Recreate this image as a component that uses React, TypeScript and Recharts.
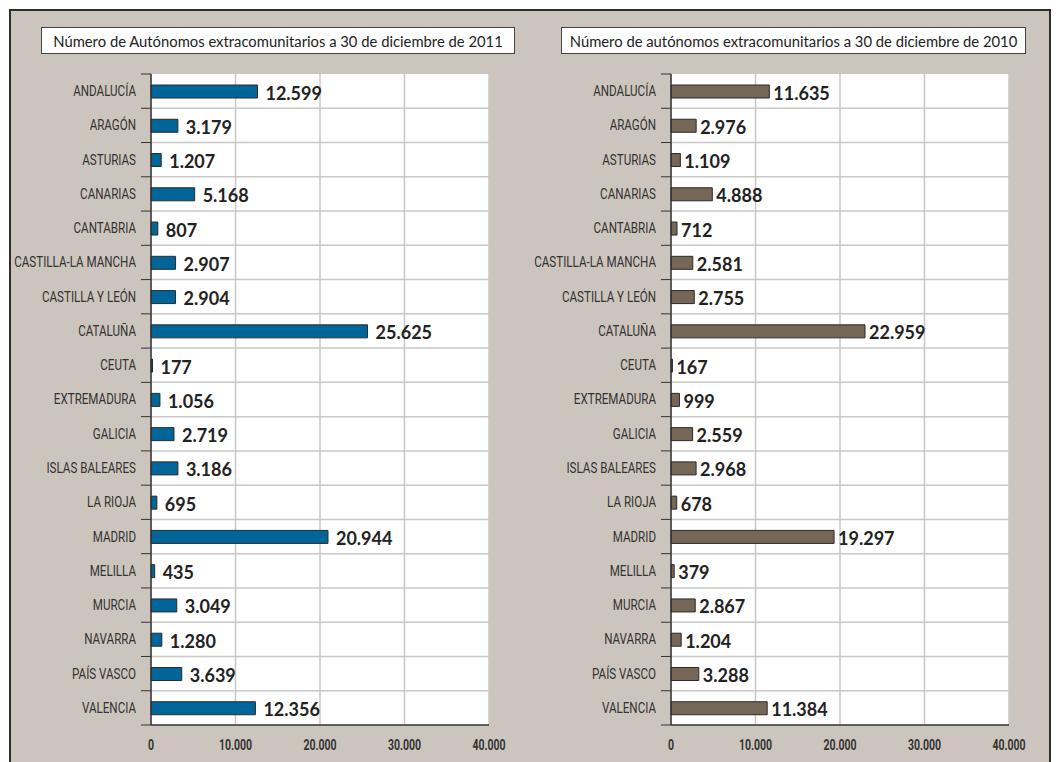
import React from "react";
import { BarChart, Bar, XAxis, YAxis, CartesianGrid, LabelList } from "recharts";

const regions = [
  "ANDALUCÍA",
  "ARAGÓN",
  "ASTURIAS",
  "CANARIAS",
  "CANTABRIA",
  "CASTILLA-LA MANCHA",
  "CASTILLA Y LEÓN",
  "CATALUÑA",
  "CEUTA",
  "EXTREMADURA",
  "GALICIA",
  "ISLAS BALEARES",
  "LA RIOJA",
  "MADRID",
  "MELILLA",
  "MURCIA",
  "NAVARRA",
  "PAÍS VASCO",
  "VALENCIA",
];

const autonomos2011 = [
  12599, 3179, 1207, 5168, 807, 2907, 2904, 25625, 177, 1056, 2719, 3186, 695,
  20944, 435, 3049, 1280, 3639, 12356,
];

const autonomos2010 = [
  11635, 2976, 1109, 4888, 712, 2581, 2755, 22959, 167, 999, 2559, 2968, 678,
  19297, 379, 2867, 1204, 3288, 11384,
];

const xTicks = [0, 10000, 20000, 30000, 40000];

const BG = "#ccc5bd";
const DARK = "#333333";
// no condensed font installed, so Roboto is squeezed horizontally
const NARROW = "Roboto, 'DejaVu Sans', sans-serif";
const SQUEEZE = 0.8;
const LABEL_FONT = "Lato, 'Open Sans', sans-serif";

const CHART_H = 762;
const TOP = 74;
const X_AXIS_H = 30;
const BOTTOM_GAP = 7;
const BAND = (CHART_H - TOP - X_AXIS_H - BOTTOM_GAP) / regions.length;

function fmt(v: number) {
  return String(Math.round(v)).replace(/\B(?=(\d{3})+(?!\d))/g, ".");
}

function CategoryTick(props: any) {
  const { x, y, payload, index } = props;
  return (
    <g>
      <text
        transform={`translate(${x - 15},${y}) scale(${SQUEEZE},1)`}
        textAnchor="end"
        dominantBaseline="central"
        fontSize={14.5}
        fill="#333"
        fontFamily={NARROW}
      >
        {payload.value}
      </text>
      <line x1={x - 10} x2={x} y1={y - BAND / 2} y2={y - BAND / 2} stroke={DARK} />
      {index === regions.length - 1 && (
        <line x1={x - 10} x2={x} y1={y + BAND / 2} y2={y + BAND / 2} stroke={DARK} />
      )}
    </g>
  );
}

function ValueTick(props: any) {
  const { x, y, payload } = props;
  return (
    <text
      transform={`translate(${x},${y + 20}) scale(0.75,1)`}
      textAnchor="middle"
      dominantBaseline="central"
      fontSize={14}
      fontWeight={700}
      fill="#333"
      fontFamily={NARROW}
    >
      {fmt(payload.value)}
    </text>
  );
}

interface PanelProps {
  values: number[];
  color: string;
  left: number;
  width: number;
  yAxisWidth: number;
  marginRight: number;
  labelGap: number;
}

function Panel({ values, color, left, width, yAxisWidth, marginRight, labelGap }: PanelProps) {
  const data = regions.map((name, i) => ({ name, value: values[i] }));
  return (
    <div style={{ position: "absolute", left, top: 0 }}>
      <BarChart
        width={width}
        height={CHART_H}
        data={data}
        layout="vertical"
        margin={{ top: TOP, right: marginRight, bottom: BOTTOM_GAP, left: 0 }}
        barCategoryGap={0}
      >
        <CartesianGrid
          fill="#ffffff"
          stroke="#c8c8c8"
          strokeWidth={1.5}
          horizontalCoordinatesGenerator={({ offset }: any) =>
            regions.slice(1).map((_, i) => offset.top + ((i + 1) * offset.height) / regions.length)
          }
        />
        <XAxis
          type="number"
          domain={[0, 40000]}
          ticks={xTicks}
          height={X_AXIS_H}
          tickSize={0}
          tickMargin={0}
          tickLine={false}
          axisLine={{ stroke: DARK, strokeWidth: 1.5 }}
          tick={<ValueTick />}
          interval={0}
        />
        <XAxis
          xAxisId="top"
          orientation="top"
          type="number"
          domain={[0, 40000]}
          height={0}
          tick={false}
          tickLine={false}
          axisLine={{ stroke: DARK, strokeWidth: 1.5 }}
        />
        <YAxis
          type="category"
          dataKey="name"
          width={yAxisWidth}
          tickSize={0}
          tickMargin={0}
          tickLine={false}
          axisLine={{ stroke: DARK, strokeWidth: 1.5 }}
          tick={<CategoryTick />}
          interval={0}
        />
        <YAxis
          yAxisId="right"
          orientation="right"
          type="category"
          dataKey="name"
          width={0}
          tick={false}
          tickLine={false}
          axisLine={{ stroke: DARK, strokeWidth: 1.5 }}
        />
        <Bar
          dataKey="value"
          fill={color}
          stroke="#2a2a2a"
          strokeWidth={1}
          barSize={13}
          isAnimationActive={false}
        >
          <LabelList
            dataKey="value"
            content={(p: any) => (
              <text
                x={Number(p.x) + Number(p.width) + labelGap}
                y={Number(p.y) + Number(p.height) / 2 + 1}
                dominantBaseline="central"
                fontSize={18}
                fontWeight={700}
                fill="#222"
                fontFamily={LABEL_FONT}
              >
                {fmt(Number(p.value))}
              </text>
            )}
          />
        </Bar>
      </BarChart>
    </div>
  );
}

const titleStyle: React.CSSProperties = {
  position: "absolute",
  top: 27,
  height: 27,
  boxSizing: "border-box",
  background: "#ffffff",
  border: "1.5px solid #444",
  fontFamily: "Lato, 'Open Sans', sans-serif",
  fontSize: 14.8,
  color: "#222",
  display: "flex",
  alignItems: "center",
  justifyContent: "center",
  whiteSpace: "nowrap",
};

export default function App() {
  return (
    <div
      style={{
        position: "absolute",
        left: 0,
        top: 0,
        width: 1059,
        height: 762,
        background: "#ffffff",
        overflow: "hidden",
      }}
    >
      <div
        style={{
          position: "absolute",
          left: 9,
          top: 9,
          width: 1042,
          height: 780,
          boxSizing: "border-box",
          background: BG,
          border: "2.5px solid #2e2e2e",
        }}
      />
      <div style={{ ...titleStyle, left: 41, width: 474 }}>
        Número de Autónomos extracomunitarios a 30 de diciembre de 2011
      </div>
      <div style={{ ...titleStyle, left: 561, width: 465 }}>
        Número de autónomos extracomunitarios a 30 de diciembre de 2010
      </div>
      <Panel
        values={autonomos2011}
        color="#006699"
        left={0}
        width={530}
        yAxisWidth={151}
        marginRight={41}
        labelGap={8}
      />
      <Panel
        values={autonomos2010}
        color="#766656"
        left={530}
        width={529}
        yAxisWidth={141}
        marginRight={50}
        labelGap={4}
      />
    </div>
  );
}
